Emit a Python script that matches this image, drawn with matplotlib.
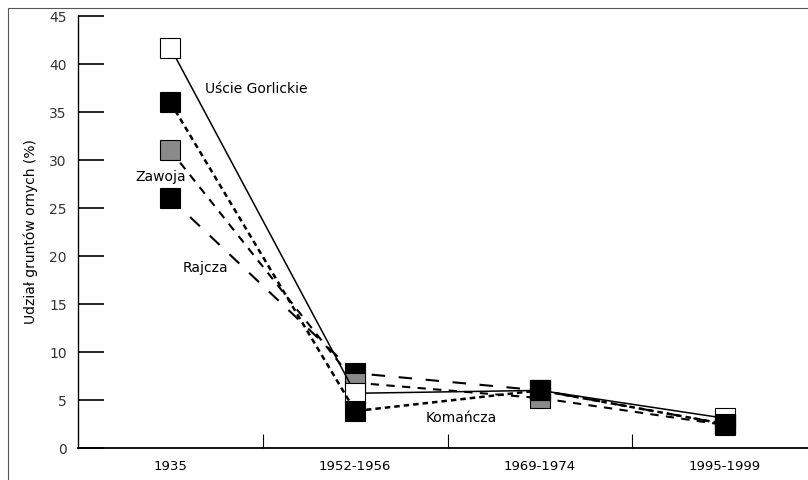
import matplotlib.pyplot as plt
from matplotlib.patches import Rectangle

plt.rcParams['font.family'] = ['DejaVu Sans']

periods = ['1935', '1952-1956', '1969-1974', '1995-1999']
uscie = [41.7, 5.7, 6.0, 3.1]
komancza = [36.0, 3.85, 6.0, 2.5]
zawoja = [31.0, 6.8, 5.2, 2.4]
rajcza = [26.0, 7.8, 6.0, 2.5]

fig = plt.figure(figsize=(8.08, 4.8), dpi=100)
ax = fig.add_axes([78 / 808, 32 / 480, 730 / 808, 432 / 480])
x = list(range(len(periods)))

ms = 14.5
ax.plot(x, rajcza, color='black', lw=1.5, dashes=(6.5, 6.5), marker='s', ms=ms,
        mfc='black', mec='black', mew=0.8, zorder=2)
ax.plot(x, zawoja, color='black', lw=1.5, dashes=(4, 3.5), marker='s', ms=ms,
        mfc='#8a8a8a', mec='black', mew=0.8, zorder=3)
ax.plot(x, uscie, color='black', lw=1.1, ls='-', marker='s', ms=ms,
        mfc='white', mec='black', mew=0.8, zorder=4)
ax.plot(x, komancza, color='black', lw=1.8, dashes=(2.2, 1.6), marker='s', ms=ms,
        mfc='black', mec='black', mew=0.8, zorder=5)

fs = 10
ax.text(0.465, 37.4, 'Uście Gorlickie', fontsize=fs, ha='center', va='center')
ax.text(-0.05, 28.2, 'Zawoja', fontsize=fs, ha='center', va='center')
ax.text(0.19, 18.75, 'Rajcza', fontsize=fs, ha='center', va='center')
ax.text(1.575, 3.1, 'Komańcza', fontsize=fs, ha='center', va='center')

ax.set_xlim(-0.5, 3.45)
ax.set_ylim(0, 45)
ax.set_yticks(range(0, 46, 5))
ax.set_xticks(x)
ax.set_xticklabels(periods)
ax.set_xticks([0.5, 1.5, 2.5], minor=True)
ax.tick_params(axis='y', direction='in', length=19, width=1.2, pad=8,
               labelsize=fs, colors='black', labelcolor='#333333')
ax.tick_params(axis='x', which='major', length=0, pad=9, labelsize=9.5)
ax.tick_params(axis='x', which='minor', direction='in', length=10, width=0.8)
ax.spines['top'].set_visible(False)
ax.spines['right'].set_visible(False)
ax.spines['left'].set_linewidth(1.0)
ax.spines['bottom'].set_linewidth(1.3)
ax.set_ylabel('Udział gruntów ornych (%)', fontsize=fs, labelpad=8)

fig.patches.append(Rectangle((8 / 808, -0.1), 1.2, (480 - 8) / 480 + 0.1,
                             transform=fig.transFigure, fill=False,
                             edgecolor='#555555', lw=0.8))

fig.savefig('out.png', dpi=100)
